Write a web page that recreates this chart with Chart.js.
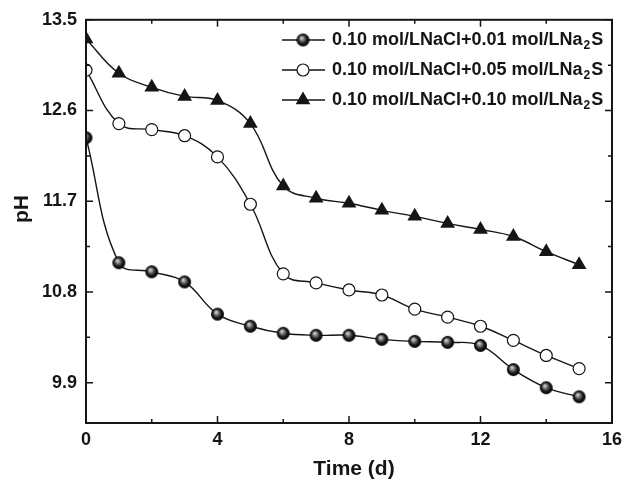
<!DOCTYPE html>
<html>
<head>
<meta charset="utf-8">
<title>pH vs time</title>
<script src="https://cdn.jsdelivr.net/npm/chart.js@4.4.1/dist/chart.umd.min.js"></script>
<style>
  html, body { margin: 0; padding: 0; background: #fff; }
  #wrap { width: 628px; height: 481px; }
</style>
</head>
<body>
<div id="wrap"><canvas id="phChart" width="628" height="481"></canvas></div>
<script>
// Time axis (days) and measured pH for each solution
const days = [0, 1, 2, 3, 4, 5, 6, 7, 8, 9, 10, 11, 12, 13, 14, 15];
const ph001 = [12.33, 11.09, 11.00, 10.90, 10.58, 10.46, 10.39, 10.37, 10.37, 10.33, 10.31, 10.30, 10.27, 10.03, 9.85, 9.76];
const ph005 = [13.00, 12.47, 12.41, 12.35, 12.14, 11.67, 10.98, 10.89, 10.82, 10.77, 10.63, 10.55, 10.46, 10.32, 10.17, 10.04];
const ph010 = [13.31, 12.97, 12.83, 12.74, 12.70, 12.47, 11.85, 11.73, 11.68, 11.61, 11.55, 11.48, 11.42, 11.35, 11.20, 11.07];

const seriesLabels = [
  '0.10 mol/LNaCl+0.01 mol/LNa₂S',
  '0.10 mol/LNaCl+0.05 mol/LNa₂S',
  '0.10 mol/LNaCl+0.10 mol/LNa₂S'
];

const xMajor = [0, 4, 8, 12, 16];
const xMinor = [2, 6, 10, 14];
const yMajor = [9.9, 10.8, 11.7, 12.6, 13.5];
const yMinor = [10.35, 11.25, 12.15, 13.05];

const FONT = "'Liberation Sans', Arial, sans-serif";
const INK = '#151515';

// shaded black ball used as marker for the 0.01 series
function makeBall(r) {
  const c = document.createElement('canvas');
  const s = r * 2 + 2;
  c.width = s; c.height = s;
  const g = c.getContext('2d');
  const cx = s / 2, cy = s / 2;
  const grad = g.createRadialGradient(cx - r * 0.25, cy - r * 0.35, 0, cx, cy, r);
  grad.addColorStop(0, '#e8e8e8');
  grad.addColorStop(0.3, '#8a8a8a');
  grad.addColorStop(0.65, '#1e1e1e');
  grad.addColorStop(1, '#000');
  g.beginPath();
  g.arc(cx, cy, r, 0, Math.PI * 2);
  g.fillStyle = grad;
  g.fill();
  return c;
}
const ball = makeBall(6.5);

function toXY(ys) { return days.map((d, i) => ({ x: d, y: ys[i] })); }

const common = {
  borderColor: INK,
  borderWidth: 1.4,
  tension: 0.4,
  clip: 0,
  pointBorderColor: INK
};

// frame, inward tick marks, axis titles and legend
const framePlugin = {
  id: 'frame',
  afterDraw(chart) {
    const { ctx, chartArea: a, scales: { x, y } } = chart;
    ctx.save();
    ctx.strokeStyle = INK;
    ctx.lineWidth = 2;
    ctx.strokeRect(a.left, a.top, a.right - a.left, a.bottom - a.top);

    ctx.lineWidth = 1.5;
    ctx.beginPath();
    const tickX = (v, len) => {
      const px = x.getPixelForValue(v);
      ctx.moveTo(px, a.bottom); ctx.lineTo(px, a.bottom - len);
      ctx.moveTo(px, a.top); ctx.lineTo(px, a.top + len);
    };
    const tickY = (v, len) => {
      const py = y.getPixelForValue(v);
      ctx.moveTo(a.left, py); ctx.lineTo(a.left + len, py);
      ctx.moveTo(a.right, py); ctx.lineTo(a.right - len, py);
    };
    xMajor.forEach(v => tickX(v, 7));
    xMinor.forEach(v => tickX(v, 4));
    yMajor.forEach(v => tickY(v, 7));
    yMinor.forEach(v => tickY(v, 4));
    ctx.stroke();

    // axis titles
    ctx.fillStyle = INK;
    ctx.font = 'bold 21px ' + FONT;
    ctx.textAlign = 'center';
    ctx.textBaseline = 'middle';
    ctx.fillText('Time (d)', 354, 469);
    ctx.save();
    ctx.translate(22, 209);
    ctx.rotate(-Math.PI / 2);
    ctx.fillText('pH', 0, 0);
    ctx.restore();

    // legend
    const lx0 = 282, lx1 = 325, mx = 303, tx = 332;
    const rows = [40, 70, 100];
    chart.data.datasets.forEach((ds, i) => {
      const ly = rows[i];
      ctx.strokeStyle = INK;
      ctx.lineWidth = 1.4;
      ctx.beginPath();
      ctx.moveTo(lx0, ly); ctx.lineTo(lx1, ly);
      ctx.stroke();
      ctx.fillStyle = ds.pointBackgroundColor || INK;
      ctx.strokeStyle = INK;
      ctx.lineWidth = ds.pointBorderWidth || 0;
      Chart.helpers.drawPoint(ctx, {
        pointStyle: ds.pointStyle,
        radius: ds.pointRadius,
        rotation: 0,
        borderWidth: ds.pointBorderWidth || 0
      }, mx, ly);

      const parts = ds.label.split('₂');
      ctx.fillStyle = INK;
      ctx.textAlign = 'left';
      ctx.textBaseline = 'middle';
      ctx.font = 'bold 18px ' + FONT;
      let cx = tx;
      ctx.fillText(parts[0], cx, ly);
      cx += ctx.measureText(parts[0]).width + 1;
      ctx.font = 'bold 12px ' + FONT;
      ctx.fillText('2', cx, ly + 6);
      cx += ctx.measureText('2').width + 1;
      ctx.font = 'bold 18px ' + FONT;
      ctx.fillText(parts[1], cx, ly);
    });
    ctx.restore();
  }
};

new Chart(document.getElementById('phChart'), {
  type: 'line',
  data: {
    datasets: [
      Object.assign({}, common, {
        label: seriesLabels[0],
        data: toXY(ph001),
        pointStyle: ball,
        pointRadius: 6.5,
        pointBackgroundColor: '#000',
        pointBorderWidth: 0
      }),
      Object.assign({}, common, {
        label: seriesLabels[1],
        data: toXY(ph005),
        pointStyle: 'circle',
        pointRadius: 6,
        pointBackgroundColor: '#fff',
        pointBorderWidth: 1.2
      }),
      Object.assign({}, common, {
        label: seriesLabels[2],
        data: toXY(ph010),
        pointStyle: 'triangle',
        pointRadius: 8.5,
        pointBackgroundColor: INK,
        pointBorderWidth: 0
      })
    ]
  },
  options: {
    responsive: false,
    animation: false,
    devicePixelRatio: 1,
    layout: { padding: { top: 18, right: 11, left: 0, bottom: 0 } },
    plugins: {
      legend: { display: false },
      tooltip: { enabled: false }
    },
    scales: {
      x: {
        type: 'linear',
        min: 0,
        max: 16,
        grid: { display: false, drawTicks: false },
        border: { display: false },
        afterBuildTicks: s => { s.ticks = xMajor.map(v => ({ value: v })); },
        afterFit: s => { s.height = 58; },
        ticks: {
          color: INK,
          padding: 6,
          maxRotation: 0,
          font: { family: FONT, size: 18, weight: 'bold' },
          callback: v => String(v)
        }
      },
      y: {
        type: 'linear',
        min: 9.5,
        max: 13.5,
        grid: { display: false, drawTicks: false },
        border: { display: false },
        afterBuildTicks: s => { s.ticks = yMajor.map(v => ({ value: v })); },
        afterFit: s => { s.width = 86; },
        ticks: {
          color: INK,
          padding: 9,
          font: { family: FONT, size: 18, weight: 'bold' },
          callback: v => Number(v).toFixed(1)
        }
      }
    }
  },
  plugins: [framePlugin]
});
</script>
</body>
</html>
